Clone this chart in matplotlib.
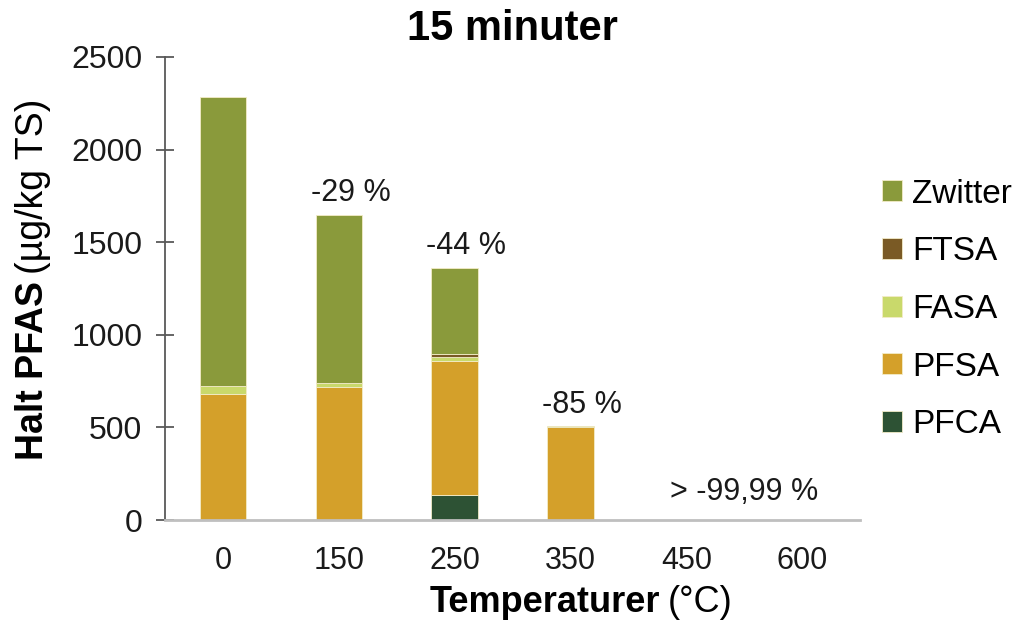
import matplotlib
matplotlib.use("Agg")
import matplotlib.pyplot as plt
import numpy as np

# data (µg/kg TS)
temperatures = ["0", "150", "250", "350", "450", "600"]
pfca = [0, 0, 133, 0, 0, 0]
pfsa = [679, 717, 726, 503, 0, 0]
fasa = [45, 21, 21, 0, 0, 0]
ftsa = [0, 0, 15, 0, 0, 0]
zwitter = [1561, 911, 467, 5, 0, 0]
change_labels = ["", "-29 %", "-44 %", "-85 %", "> -99,99 %", ""]

series = [
    ("PFCA", pfca, "#2d5234"),
    ("PFSA", pfsa, "#d4a02a"),
    ("FASA", fasa, "#c9d96b"),
    ("FTSA", ftsa, "#7a5a25"),
    ("Zwitter", zwitter, "#8a9a3b"),
]

plt.rcParams["font.family"] = ["Liberation Sans", "DejaVu Sans"]

fig = plt.figure(figsize=(10.19, 6.25), dpi=100)
ax = fig.add_axes([0.162, 0.168, 0.682, 0.741])

x = np.arange(len(temperatures))
bottom = np.zeros(len(temperatures))
handles = []
for name, vals, color in series:
    vals = np.array(vals, dtype=float)
    b = ax.bar(x, vals, width=0.4, bottom=bottom, color=color,
               edgecolor="#f3ecc8", linewidth=0.6, label=name)
    handles.append(b)
    bottom += vals
totals = bottom

# percent change labels above the bars
for i, lab in enumerate(change_labels):
    if not lab:
        continue
    if totals[i] > 0:
        ax.text(i + 0.1, totals[i] + 72, lab, ha="center", va="baseline",
                fontsize=22, color="#1a1a1a")
    else:
        ax.text(i + 0.5, 110, lab, ha="center", va="baseline",
                fontsize=22, color="#1a1a1a")

ax.set_xlim(-0.5, len(temperatures) - 0.5)
ax.set_ylim(0, 2500)
ax.set_yticks([0, 500, 1000, 1500, 2000, 2500])
ax.set_xticks(x)
ax.set_xticklabels(temperatures, fontsize=22)
ax.tick_params(axis="x", length=0, pad=19, colors="#1a1a1a")
ax.tick_params(axis="y", direction="inout", length=13, width=1.3,
               color="#595959", labelsize=23, labelcolor="#1a1a1a", pad=10)

for s in ["top", "right"]:
    ax.spines[s].set_visible(False)
ax.spines["left"].set_color("#595959")
ax.spines["left"].set_linewidth(1.3)
ax.spines["bottom"].set_color("#bfbfbf")
ax.spines["bottom"].set_linewidth(2.0)

ax.set_title("15 minuter", fontsize=30, fontweight="bold", pad=12)

# y label: bold part + regular part, stacked along the rotated baseline
t1 = fig.text(0.032, 0.264, "Halt PFAS", rotation=90, ha="center",
              va="bottom", fontsize=27, fontweight="bold")
fig.canvas.draw()
bb = t1.get_window_extent()
fig.text(0.032, (bb.y1 + 7) / fig.bbox.height, "(µg/kg TS)", rotation=90,
         ha="center", va="bottom", fontsize=27)

# x label: bold part + regular part
t2 = fig.text(430 / 1019, 0.02, "Temperaturer", ha="left", va="baseline",
              fontsize=26, fontweight="bold")
fig.canvas.draw()
bb = t2.get_window_extent()
fig.text((bb.x1 + 7) / fig.bbox.width, 0.02, "(°C)", ha="left",
         va="baseline", fontsize=26)

leg = fig.legend(handles[::-1], [h.get_label() for h in handles[::-1]],
                 loc="center left", bbox_to_anchor=(0.866, 0.505),
                 frameon=False, fontsize=24, handlelength=0.6,
                 handleheight=0.6, handletextpad=0.3, labelspacing=0.8,
                 borderpad=0, borderaxespad=0)

fig.savefig("out.png", dpi=100)
